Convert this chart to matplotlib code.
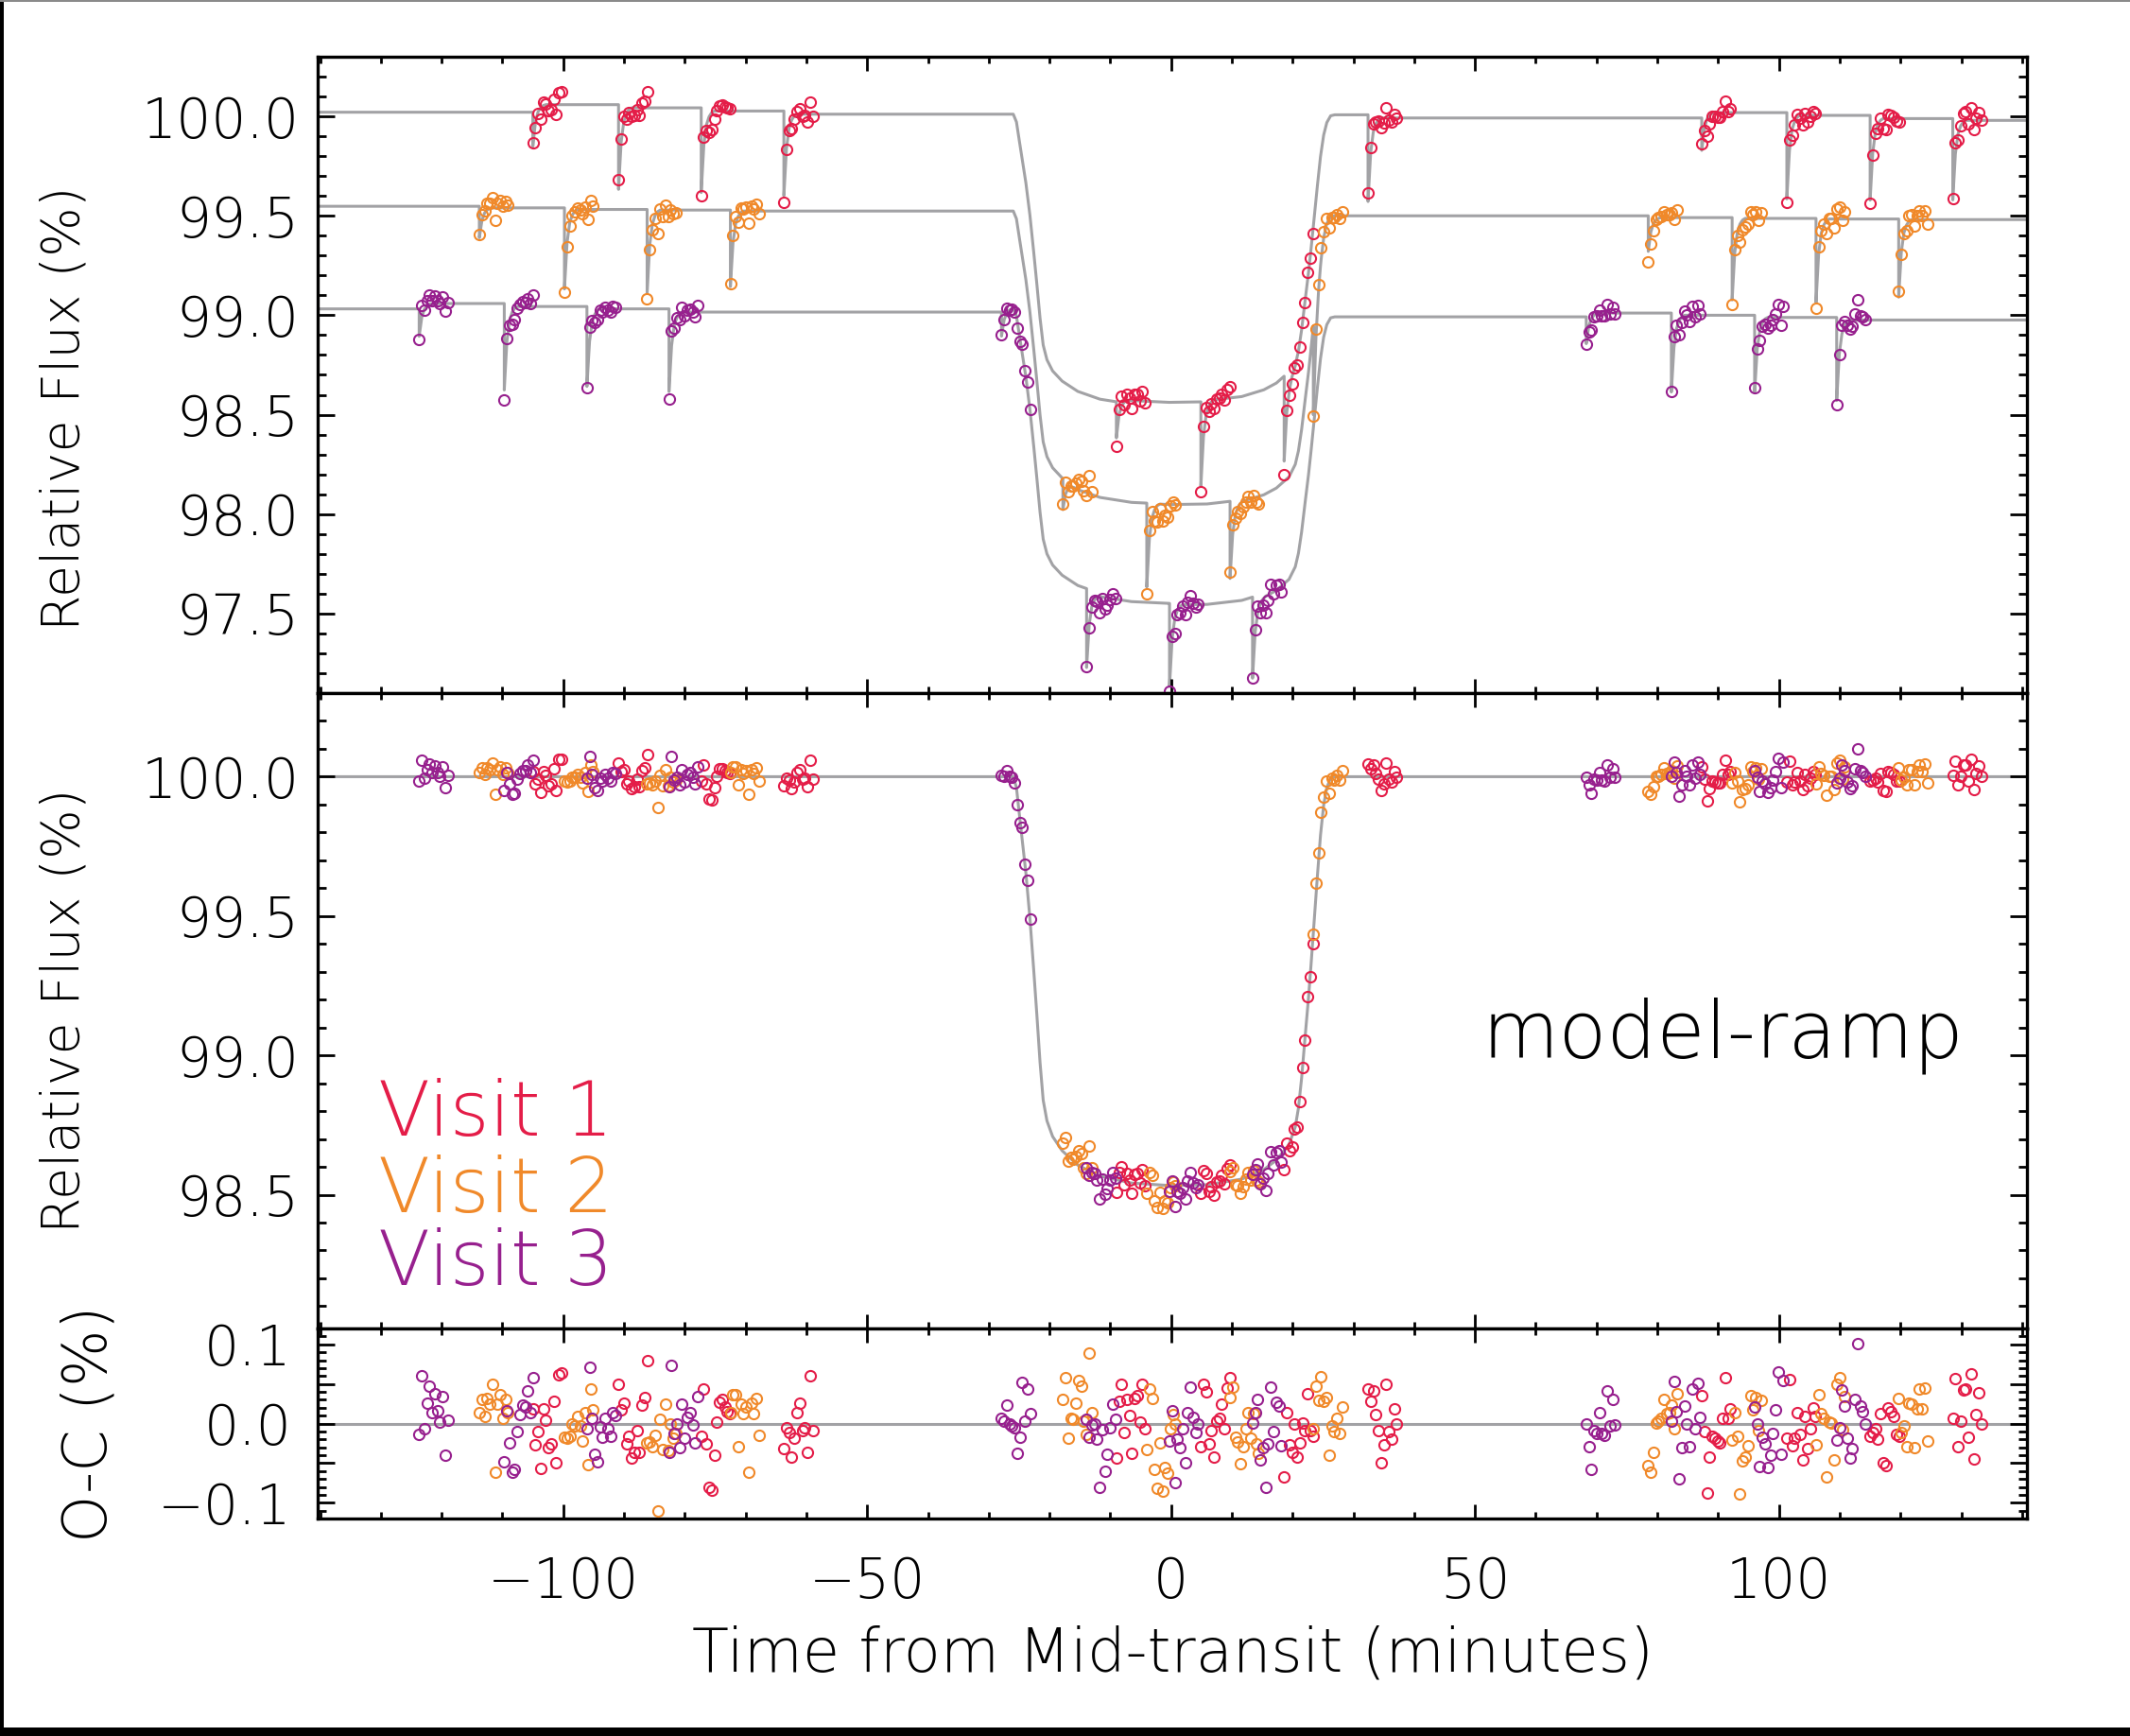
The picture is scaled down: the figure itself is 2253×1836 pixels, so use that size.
import numpy as np
import matplotlib
matplotlib.use("Agg")
import matplotlib.pyplot as plt
from matplotlib.ticker import MultipleLocator, FuncFormatter
from matplotlib.patches import Rectangle

plt.rcParams['font.family'] = ['DejaVu Sans']
plt.rcParams['font.weight'] = 'light'

# ---------------- data ----------------
# transit model profile (minutes from mid-transit, relative flux %) - middle panel curve
profile_t = [-140.5, -25.96, -25.44, -24.93, -24.41, -23.89, -23.22, -22.59, -22.08, -21.56,
             -21.04, -20.42, -19.49, -17.93, -15.34, -11.71, -6.52, -0.30, 5.92, 11.62,
             15.25, 17.32, 19.40, 20.43, 20.95, 21.47, 22.09, 22.61, 23.03, 23.55,
             24.07, 24.58, 25.10, 25.62, 26.25, 26.92, 140.8]
profile_f = [100.0, 100.0, 99.961, 99.859, 99.757, 99.655, 99.491, 99.304, 99.145, 98.975,
             98.839, 98.765, 98.709, 98.658, 98.606, 98.567, 98.542, 98.533, 98.536, 98.556,
             98.590, 98.624, 98.680, 98.743, 98.811, 98.918, 99.077, 99.207, 99.327, 99.485,
             99.644, 99.790, 99.898, 99.961, 99.995, 100.0, 100.0]

# ramp ("hook") shape at the start of each data segment (minutes after start, fraction of depth)
hook_dt = [0.0, 0.43, 0.86, 1.29, 1.72, 2.15]
hook_frac = [1.0, 0.42, 0.17, 0.07, 0.02, 0.0]

cadence = 0.43          # minutes between exposures
n_per_segment = 12

# Visit 1
v1_t0 = [-105.0, -90.9, -77.3, -63.7, -9.0, 4.9, 18.6, 32.4, 87.3, 101.3, 115.0, 128.6]
v1_level = [100.059, 100.043, 100.027, 100.011, 100.029, 100.035, 100.008, 99.992,
            100.019, 100.005, 99.989, 99.980]
v1_start = 100.021
v1_depth = [0.21, 0.41, 0.41, 0.41, 0.20, 0.43, 0.40, 0.42, 0.19, 0.42, 0.41, 0.40]
v1_resid = [
    [0.019, -0.027, -0.010, -0.057, 0.019, 0.004, -0.031, -0.026, 0.028, -0.049, 0.062, 0.064],
    [0.050, 0.017, 0.026, -0.026, -0.016, -0.044, -0.037, -0.009, -0.036, 0.023, 0.033, 0.080],
    [-0.016, 0.043, -0.026, -0.081, -0.084, -0.040, 0.002, 0.027, 0.030, 0.021, 0.015, 0.012],
    [-0.032, -0.005, -0.011, -0.042, -0.018, 0.014, 0.026, -0.009, -0.005, -0.037, 0.060, -0.009],
    [-0.044, 0.028, 0.050, -0.011, 0.030, 0.010, -0.038, 0.032, 0.035, 0.002, 0.050, -0.007],
    [-0.029, 0.050, 0.040, -0.026, -0.009, -0.042, 0.003, 0.006, 0.025, -0.006, 0.045, 0.058],
    [-0.067, 0.014, -0.027, -0.037, 0.000, -0.042, -0.025, 0.001, -0.009, 0.038, -0.009, -0.016],
    [0.044, 0.028, 0.041, 0.011, -0.009, -0.050, -0.027, 0.049, -0.010, -0.020, 0.018, -0.001],
    [0.035, -0.010, -0.088, -0.042, -0.016, -0.019, -0.022, -0.024, 0.007, 0.058, 0.007, 0.018],
    [-0.018, 0.055, -0.028, -0.018, 0.014, -0.014, -0.046, 0.009, -0.032, -0.006, 0.020, 0.009],
    [-0.016, -0.011, -0.006, -0.020, 0.012, -0.050, -0.053, 0.020, 0.015, 0.009, -0.014, -0.016],
    [0.006, 0.057, -0.029, 0.003, 0.042, 0.043, -0.017, 0.063, -0.045, 0.011, 0.039, 0.000],
]

# Visit 2
v2_t0 = [-113.8, -99.8, -86.2, -72.5, -17.8, -4.0, 9.7, 23.4, 78.5, 92.3, 106.1, 119.7]
v2_level = [99.540, 99.532, 99.529, 99.524, 99.517, 99.515, 99.507, 99.500,
            99.491, 99.487, 99.484, 99.481]
v2_start = 99.548
v2_depth = [0.15, 0.40, 0.42, 0.38, 0.15, 0.42, 0.38, 0.44, 0.17, 0.41, 0.42, 0.39]
v2_resid = [
    [0.014, 0.031, 0.009, 0.032, 0.024, 0.050, -0.062, 0.024, 0.037, 0.007, 0.031, 0.014],
    [-0.017, -0.019, -0.016, -0.001, -0.003, 0.009, -0.003, -0.022, 0.014, -0.052, 0.043, 0.017],
    [-0.025, -0.023, -0.029, -0.015, -0.110, 0.005, -0.033, 0.024, -0.034, -0.001, -0.019, -0.013],
    [0.014, 0.036, 0.037, -0.029, 0.025, 0.012, 0.021, -0.062, 0.026, 0.012, 0.032, -0.015],
    [0.030, 0.058, -0.018, 0.006, 0.005, 0.026, 0.054, 0.047, 0.003, -0.014, 0.089, 0.014],
    [-0.033, 0.043, 0.032, -0.058, -0.082, -0.025, -0.085, -0.056, -0.063, -0.007, 0.011, -0.001],
    [0.033, 0.046, -0.017, -0.023, -0.051, -0.029, -0.007, 0.014, -0.019, 0.013, -0.026, -0.038],
    [-0.006, 0.047, 0.029, 0.059, 0.028, 0.033, -0.040, -0.003, -0.010, 0.006, -0.013, 0.021],
    [-0.053, -0.062, -0.037, 0.001, 0.003, 0.007, 0.031, 0.013, 0.014, 0.023, -0.007, 0.038],
    [-0.021, 0.014, -0.016, -0.089, -0.047, -0.042, -0.028, 0.035, 0.017, 0.033, -0.009, 0.029],
    [-0.027, 0.036, 0.013, 0.006, -0.067, 0.002, 0.001, -0.046, 0.050, 0.058, -0.008, 0.034],
    [0.032, -0.011, -0.003, -0.029, 0.026, 0.025, -0.030, 0.019, 0.043, 0.019, 0.045, -0.022],
]

# Visit 3
v3_t0 = [-123.7, -109.7, -96.1, -82.6, -27.9, -13.9, -0.26, 13.4, 68.3, 82.3, 96.0, 109.5]
v3_level = [99.059, 99.044, 99.032, 99.016, 99.035, 99.018, 99.010, 98.992,
            99.011, 99.000, 98.989, 98.976]
v3_start = 99.032
v3_depth = [0.165, 0.42, 0.39, 0.40, 0.14, 0.38, 0.41, 0.39, 0.154, 0.386, 0.375, 0.405]
v3_resid = [
    [-0.014, 0.060, -0.006, 0.026, 0.047, 0.014, 0.038, 0.016, 0.002, 0.034, -0.040, 0.004],
    [-0.048, 0.016, -0.025, -0.062, -0.058, -0.010, 0.011, 0.023, 0.021, 0.041, 0.014, 0.058],
    [-0.006, 0.071, 0.007, -0.039, -0.048, -0.004, -0.017, 0.007, -0.007, -0.016, 0.014, 0.010],
    [-0.036, 0.074, -0.013, -0.001, -0.030, 0.024, -0.019, 0.008, 0.014, -0.002, -0.025, 0.034],
    [0.006, 0.003, 0.023, 0.000, -0.003, -0.005, -0.038, -0.017, 0.052, 0.003, 0.044, 0.013],
    [0.005, -0.017, -0.002, -0.001, -0.020, -0.081, -0.008, -0.060, -0.039, -0.005, 0.024, 0.005],
    [-0.022, 0.016, -0.075, -0.020, -0.030, -0.007, -0.049, 0.014, 0.046, 0.008, -0.011, 0.000],
    [0.001, 0.014, 0.031, -0.046, -0.030, -0.081, -0.026, 0.046, -0.010, 0.027, 0.022, -0.028],
    [-0.001, -0.029, -0.058, -0.009, -0.013, 0.014, -0.012, -0.015, 0.041, -0.003, 0.030, -0.002],
    [0.003, 0.053, 0.015, -0.070, -0.030, 0.022, 0.000, -0.029, 0.043, -0.006, 0.051, 0.008],
    [0.021, -0.001, -0.054, -0.017, -0.026, -0.055, -0.040, -0.013, 0.017, 0.065, -0.039, 0.054],
    [-0.021, -0.005, 0.042, 0.022, -0.018, -0.044, -0.032, 0.030, 0.101, 0.022, 0.015, 0.000],
]

visit_labels = ["Visit 1", "Visit 2", "Visit 3"]
visit_colors = ["#E41D48", "#F0892A", "#97208E"]
model_color = "#A2A2A5"

xlim = (-140.4, 140.8)

# ---------------- helpers (model evaluation) ----------------
def transit(t):
    return np.interp(t, profile_t, profile_f)

def ramp_model(t, t0, level, depth, start):
    t = np.asarray(t, dtype=float)
    t0 = np.asarray(t0)
    k = np.searchsorted(t0, t, side='right') - 1
    kk = np.clip(k, 0, None)
    lev = np.where(k >= 0, np.asarray(level)[kk], start)
    dt = t - t0[kk]
    hk = np.where(k >= 0,
                  np.asarray(depth)[kk] * np.interp(dt, hook_dt, hook_frac, left=0.0, right=0.0),
                  0.0)
    return lev + transit(t) - 100.0 - hk

# ---------------- figure ----------------
W_PX, H_PX, DPI = 2253, 1836, 200
fig = plt.figure(figsize=(W_PX / DPI, H_PX / DPI), dpi=DPI)
L, W = 336 / W_PX, 1808 / W_PX
ax1 = fig.add_axes([L, 1 - 733 / H_PX, W, 673 / H_PX])
ax2 = fig.add_axes([L, 1 - 1405 / H_PX, W, 672 / H_PX])
ax3 = fig.add_axes([L, 1 - 1606 / H_PX, W, 201 / H_PX])

mk = dict(ls='none', marker='o', mfc='none', ms=4.0, mew=0.75, zorder=3, clip_on=True)

visits = [
    (v1_t0, v1_level, v1_depth, v1_start, v1_resid),
    (v2_t0, v2_level, v2_depth, v2_start, v2_resid),
    (v3_t0, v3_level, v3_depth, v3_start, v3_resid),
]

# model lines
for (t0, level, depth, start, resid) in visits:
    t0a = np.asarray(t0)
    tv = np.unique(np.concatenate([profile_t, t0a - 1e-4,
                                   (t0a[:, None] + np.asarray(hook_dt)[None, :]).ravel()]))
    ax1.plot(tv, ramp_model(tv, t0, level, depth, start), color=model_color, lw=1.1, zorder=1)
ax2.plot(profile_t, profile_f, color=model_color, lw=1.1, zorder=1)
ax3.axhline(0.0, color=model_color, lw=1.1, zorder=1)

# data points
for (t0, level, depth, start, resid), col in zip(visits, visit_colors):
    t0a = np.asarray(t0)
    tp = (t0a[:, None] + cadence * np.arange(n_per_segment)[None, :]).ravel()
    res = np.asarray(resid).ravel()
    ax1.plot(tp, ramp_model(tp, t0, level, depth, start) + res, mec=col, **mk)
    ax2.plot(tp, transit(tp) + res, mec=col, **mk)
    ax3.plot(tp, res, mec=col, **mk)

# axes cosmetics
def fmt1(v, pos):
    if abs(v) < 1e-9:
        return "0.0"
    return ("%.1f" % v).replace("-", "\u2212")

def fmt_res(v, pos):
    if abs(round(v / 0.1) * 0.1 - v) > 1e-6:
        return ""
    return fmt1(v, pos)

for ax in (ax1, ax2, ax3):
    ax.set_xlim(*xlim)
    ax.xaxis.set_major_locator(MultipleLocator(50))
    ax.xaxis.set_minor_locator(MultipleLocator(10))
    ax.tick_params(which='both', direction='in', top=True, right=True, width=1.0,
                   labelsize=21, colors='black')
    ax.tick_params(axis='x', which='major', length=5.5)
    ax.tick_params(axis='x', which='minor', length=2.6)
    ax.tick_params(axis='y', which='major', length=6.5, pad=7)
    ax.tick_params(axis='y', which='minor', length=3.3)
    for s in ax.spines.values():
        s.set_linewidth(1.2)

ax1.set_ylim(97.1, 100.3)
ax2.set_ylim(98.02, 100.30)
ax3.set_ylim(-0.12, 0.12)
for ax in (ax1, ax2):
    ax.yaxis.set_major_locator(MultipleLocator(0.5))
    ax.yaxis.set_minor_locator(MultipleLocator(0.1))
    ax.yaxis.set_major_formatter(FuncFormatter(fmt1))
    ax.tick_params(axis='x', labelbottom=False)
ax3.yaxis.set_major_locator(MultipleLocator(0.05))
ax3.yaxis.set_minor_locator(MultipleLocator(0.01))
ax3.yaxis.set_major_formatter(FuncFormatter(fmt_res))
ax3.tick_params(axis='y', which='major', pad=10)
ax3.tick_params(axis='x', which='major', pad=14)

# labels
fig.text(0.0306, 0.765, "Relative Flux (%)", rotation=90, ha='center', va='center', fontsize=20)
fig.text(0.0306, 0.418, "Relative Flux (%)", rotation=90, ha='center', va='center', fontsize=20)
fig.text(0.0422, 0.1797, "O-C (%)", rotation=90, ha='center', va='center', fontsize=23)
fig.text(0.5504, 0.0468, "Time from Mid-transit (minutes)", ha='center', va='center', fontsize=23)

ax2.text(90.8, 99.07, "model-ramp", ha='center', va='center', fontsize=30)
for lab, col, yv in zip(visit_labels, visit_colors, [98.789, 98.514, 98.252]):
    ax2.text(-130.4, yv, lab, color=col, ha='left', va='center', fontsize=29)

# figure border decorations
fig.patches.append(Rectangle((0, 0), 4 / W_PX, 1, transform=fig.transFigure,
                             facecolor='black', edgecolor='none', zorder=10))
fig.patches.append(Rectangle((0, 0), 1, 9 / H_PX, transform=fig.transFigure,
                             facecolor='black', edgecolor='none', zorder=10))
fig.patches.append(Rectangle((0, 1 - 2 / H_PX), 1, 2 / H_PX, transform=fig.transFigure,
                             facecolor='#8a8a8a', edgecolor='none', zorder=10))

fig.savefig("out.png", dpi=DPI)
